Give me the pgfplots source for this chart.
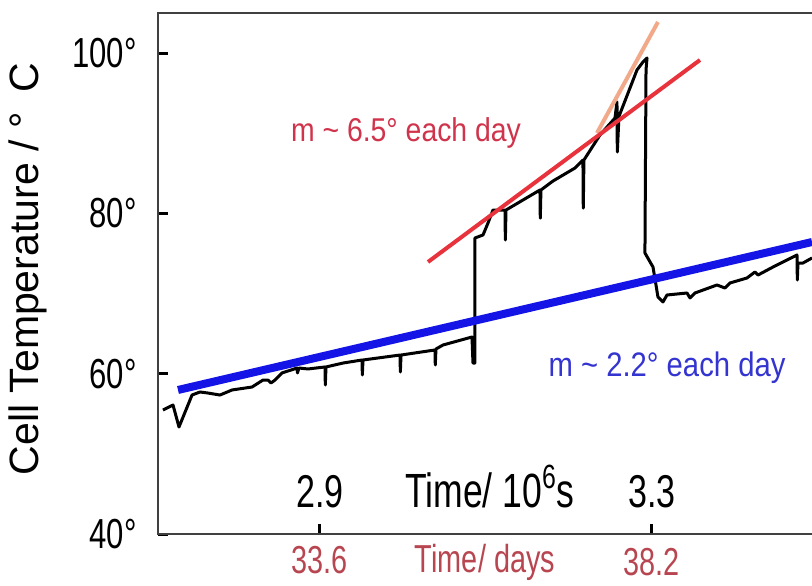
\documentclass[border=0pt]{standalone}
\usepackage{pgfplots}
\pgfplotsset{compat=1.18}
\usepackage{fontspec}
\setmainfont{Liberation Sans}
% the scan is squeezed sideways, so most text is narrowed
\newfontfamily\nf{Liberation Sans}[FakeStretch=0.74]
\newfontfamily\mf{Liberation Sans}[FakeStretch=0.86]
\definecolor{fitblue}{HTML}{1414E6}
\definecolor{fitred}{HTML}{E8323C}
\definecolor{fitorange}{HTML}{F2A98A}
\definecolor{txtred}{HTML}{D0344C}
\definecolor{txtblue}{HTML}{3434D0}
\definecolor{daysred}{HTML}{B84650}
\definecolor{frame}{HTML}{404040}
\tikzset{days/.style={daysred, anchor=base, inner sep=0pt,
    font=\nf\fontsize{19.5}{22}\selectfont}}

\begin{document}
\begin{tikzpicture}
\begin{axis}[
    scale only axis,
    width=327pt, height=260.5pt,
    xmin=2.705, xmax=3.493,
    ymin=40, ymax=105,
    clip=false,
    axis line style={draw=none},
    xtick={2.9,3.3}, xticklabels={2.9,3.3},
    ytick={40,60,80,100}, yticklabels={40°,60°,80°,100°},
    xtick pos=bottom, ytick pos=left,
    tick align=inside,
    major tick length=5pt,
    tick style={line width=1.5pt, black},
    x tick label style={anchor=base, yshift=13.5pt, inner sep=0pt,
        font=\nf\fontsize{23}{26}\selectfont},
    y tick label style={anchor=east, xshift=-10.5pt, inner sep=0pt,
        font=\nf\fontsize{21}{24}\selectfont},
    ylabel={Cell Temperature / °\enspace C},
    ylabel style={at={(axis description cs:-0.199,0.509)}, anchor=center,
        font=\fontsize{20.5}{24}\selectfont},
]
% frame: left, bottom and top only
\draw[frame, line width=1pt] (rel axis cs:1,1) -- (rel axis cs:0,1)
    -- (rel axis cs:0,0) -- (rel axis cs:1,0);

% recorded cell temperature
\addplot[black, line width=1.5pt, line join=round] coordinates {
(2.7110,55.47)(2.7231,56.09)(2.7303,53.35)(2.7460,57.34)(2.7556,57.72)
(2.7652,57.59)(2.7797,57.34)(2.7942,57.97)(2.8183,58.34)(2.8315,59.21)
(2.8375,59.21)(2.8411,58.84)(2.8460,59.21)(2.8544,60.09)(2.8725,60.71)
(2.8730,60.09)(2.8749,60.71)(2.8857,60.59)(2.9062,60.84)(2.9066,58.59)
(2.9074,60.84)(2.9279,61.33)(2.9508,61.71)(2.9512,59.84)(2.9520,61.71)
(2.9966,62.33)(2.9970,60.21)(2.9978,62.33)(3.0387,62.96)(3.0391,61.09)
(3.0399,63.08)(3.0484,63.58)(3.0833,64.58)(3.0845,61.33)(3.0869,61.33)
(3.0869,76.93)(3.0966,77.31)(3.1026,78.80)(3.1086,80.42)(3.1231,80.42)
(3.1235,76.68)(3.1243,80.42)(3.1652,82.92)(3.1656,79.40)(3.1664,82.92)
(3.1809,84.04)(3.2074,85.66)(3.2170,86.66)(3.2174,80.67)(3.2182,86.66)
(3.2375,89.78)(3.2556,91.90)(3.2580,93.90)(3.2584,87.66)(3.2604,92.10)
(3.2821,97.89)(3.2893,98.89)(3.2942,99.39)(3.2930,97.89)(3.2917,75.06)
(3.3014,73.31)(3.3074,69.57)(3.3134,68.95)(3.3183,69.82)(3.3424,70.07)
(3.3460,69.45)(3.3520,70.07)(3.3785,71.07)(3.3881,70.69)(3.3942,71.32)
(3.4146,71.94)(3.4243,72.69)(3.4279,72.31)(3.4460,73.31)(3.4701,74.56)
(3.4749,74.81)(3.4753,71.69)(3.4761,73.81)(3.4821,73.81)(3.4930,74.44)
};

% fitted slopes
\addplot[fitblue, line width=4pt] coordinates {(2.7291,57.97)(3.4930,76.43)};
\addplot[fitorange, line width=2pt] coordinates {(3.2339,90.03)(3.3074,103.88)};
\addplot[fitred, line width=2pt] coordinates {(3.0303,73.94)(3.3580,99.14)};

\node[txtred, anchor=base, font=\mf\fontsize{16.5}{19}\selectfont]
    at (axis cs:3.0038,88.91) {m \textasciitilde{} 6.5° each day};
\node[txtblue, anchor=base, font=\mf\fontsize{17}{20}\selectfont]
    at (axis cs:3.3183,59.59) {m \textasciitilde{} 2.2° each day};

\node[black, anchor=base, font=\nf\fontsize{24}{27}\selectfont]
    at (axis cs:3.105,43.37) {Time/ 10\textsuperscript{6}s};
\node[days] at (axis cs:2.9,35.1) {33.6};
\node[days] at (axis cs:3.3,34.8) {38.2};
\node[days] at (axis cs:3.099,35.2) {Time/ days};
\end{axis}
\pgfresetboundingbox
\path[use as bounding box] (-79pt,-25.5pt) rectangle (327pt,267pt);
\end{tikzpicture}
\end{document}
